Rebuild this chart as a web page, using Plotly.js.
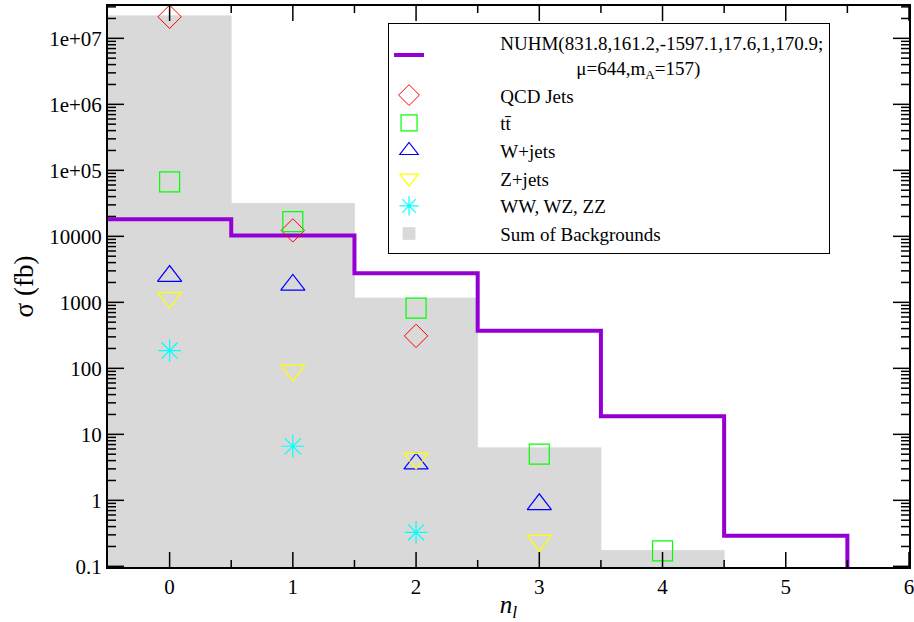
<!DOCTYPE html>
<html>
<head>
<meta charset="utf-8">
<script src="https://cdn.plot.ly/plotly-3.0.1.min.js"></script>
<style>html,body{margin:0;padding:0;background:#fff;}#chart{width:914px;height:622px;}</style>
</head>
<body>
<div id="chart"></div>
<script>
// ---- data ----
const nuhmEdges = [-0.5, 0.5, 1.5, 2.5, 3.5, 4.5, 5.5];
const nuhm = [18100, 10300, 2770, 372, 18.8, 0.29];
const bkgX = [0, 1, 2, 3, 4];
const bkgSum = [2.19e7, 31500, 1160, 6.25, 0.174];
const qcdX = [0, 1, 2];
const qcd = [2.12e7, 12300, 310];
const ttX = [0, 1, 2, 3, 4];
const tt = [67000, 16700, 820, 5.0, 0.172];
const wX = [0, 1, 2, 3];
const wjets = [2500, 1840, 3.6, 0.87];
const zX = [0, 1, 2, 3];
const zjets = [1180, 93, 4.3, 0.245];
const vvX = [0, 1, 2];
const vv = [186, 6.6, 0.326];
const yTickVals = [0.1, 1, 10, 100, 1000, 10000, 1e5, 1e6, 1e7];
const yTickText = ['0.1', '1', '10', '100', '1000', '10000', '1e+05', '1e+06', '1e+07'];
const xTickVals = [0, 1, 2, 3, 4, 5, 6];
const xMinorVals = [0.5, 1.5, 2.5, 3.5, 4.5, 5.5];

const XR = [-0.5, 6.0001];
const YR = [-1.01, 7.49];

// ---- build step line for NUHM ----
const stepX = nuhmEdges.slice();
const stepY = nuhm.concat([nuhm[nuhm.length - 1]]);
stepX.push(nuhmEdges[nuhmEdges.length - 1]);
stepY.push(1e-3); // drop below the axis floor (clipped)

const yMinorVals = [];
for (let d = -1; d <= 7; d++) for (let m = 2; m <= 9; m++) {
  const v = m * Math.pow(10, d);
  if (Math.log10(v) < YR[1]) yMinorVals.push(v);
}

// ---- inside ticks on all four sides, placed through the axis scales ----
const shapes = [];
function vtick(x, len, top) {
  shapes.push({type: 'line', xref: 'x', yref: 'paper', ysizemode: 'pixel', yanchor: top ? 1 : 0,
               x0: x, x1: x, y0: 0, y1: top ? -len : len, line: {color: '#000', width: 1.5}});
}
function htick(y, len, right) {
  shapes.push({type: 'line', yref: 'y', xref: 'paper', xsizemode: 'pixel', xanchor: right ? 1 : 0,
               y0: y, y1: y, x0: 0, x1: right ? -len : len, line: {color: '#000', width: 1.5}});
}
xTickVals.forEach(v => { vtick(v, 15, false); vtick(v, 15, true); });
xMinorVals.forEach(v => { vtick(v, 7, false); vtick(v, 7, true); });
yTickVals.forEach(v => { htick(v, 16, false); htick(v, 16, true); });
yMinorVals.forEach(v => { htick(v, 8, false); htick(v, 8, true); });

const pad = '\u00A0'.repeat(15);
const pad2 = '\u00A0'.repeat(31);
const FONT = 'Liberation Serif, Times New Roman, serif';

const traces = [
  {type: 'bar', x: bkgX, y: bkgSum, width: 1, name: pad + 'Sum of Backgrounds',
   marker: {color: '#d9d9d9', line: {width: 0.8, color: '#d9d9d9'}}, legendrank: 7},
  {type: 'scatter', mode: 'lines', x: stepX, y: stepY, line: {shape: 'hv', color: '#9400d3', width: 4},
   name: pad + 'NUHM(831.8,161.2,-1597.1,17.6,1,170.9;<br>' + pad2 + 'μ=644,m<sub>A</sub>=157)', legendrank: 1},
  {type: 'scatter', mode: 'markers', x: qcdX, y: qcd, name: pad + 'QCD Jets', legendrank: 2,
   marker: {symbol: 'diamond-open', size: 18, color: '#ff0000', line: {width: 1, color: '#ff0000'}}},
  {type: 'scatter', mode: 'markers', x: ttX, y: tt, name: pad + 'tt\u0304', legendrank: 3,
   marker: {symbol: 'square-open', size: 20, color: '#00ff00', line: {width: 1.2, color: '#00ff00'}}},
  {type: 'scatter', mode: 'markers', x: wX, y: wjets, name: pad + 'W+jets', legendrank: 4,
   marker: {symbol: 'triangle-up-open', size: 21, color: '#0000ff', line: {width: 1.2, color: '#0000ff'}}},
  {type: 'scatter', mode: 'markers', x: zX, y: zjets, name: pad + 'Z+jets', legendrank: 5,
   marker: {symbol: 'triangle-down-open', size: 21, color: '#ffff00', line: {width: 1.2, color: '#ffff00'}}},
  {type: 'scatter', mode: 'markers', x: vvX, y: vv, name: pad + 'WW, WZ, ZZ', legendrank: 6,
   marker: {symbol: 'asterisk-open', size: 19, color: '#00ffff', line: {width: 1.2, color: '#00ffff'}}}
];

const layout = {
  width: 914, height: 622,
  margin: {l: 108, r: 5, t: 6, b: 55},
  font: {family: FONT, color: '#000', size: 21},
  showlegend: true,
  shapes: shapes,
  legend: {x: 0.3496, y: 0.97, xanchor: 'left', yanchor: 'top', bgcolor: '#fff',
           bordercolor: '#000', borderwidth: 1, font: {family: FONT, size: 19, color: '#000'},
           traceorder: 'normal'},
  xaxis: {range: XR, tickmode: 'array', tickvals: xTickVals, ticks: '',
          showline: true, linecolor: '#000', linewidth: 2,
          mirror: true, showgrid: false, zeroline: false, ticklabeloverflow: 'allow',
          tickfont: {family: FONT, size: 21},
          title: {text: '<i>n<sub>l</sub></i>', font: {family: FONT, size: 25}, standoff: 6}},
  yaxis: {type: 'log', range: YR, tickmode: 'array', tickvals: yTickVals, ticktext: yTickText,
          ticks: '', showline: true, linecolor: '#000',
          linewidth: 2, mirror: true, showgrid: false, zeroline: false,
          tickfont: {family: FONT, size: 21},
          title: {text: 'σ (fb)', font: {family: FONT, size: 27}, standoff: 8}}
};

Plotly.newPlot('chart', traces, layout, {displayModeBar: false, staticPlot: true});
</script>
</body>
</html>
